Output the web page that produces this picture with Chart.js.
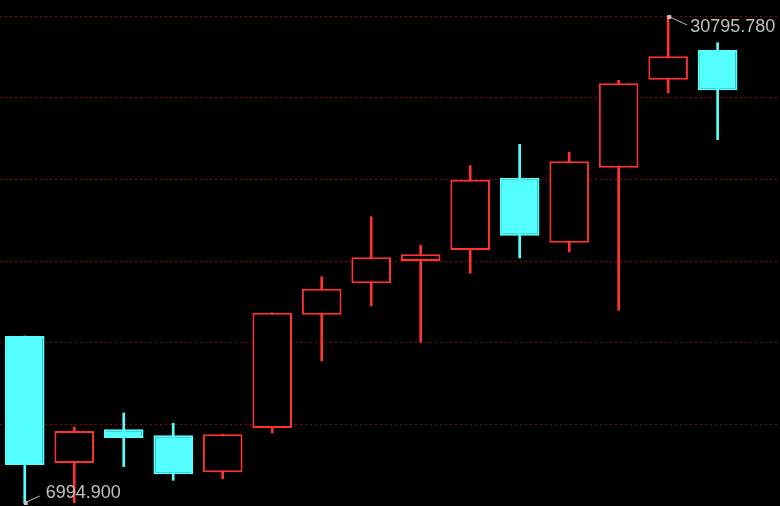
<!DOCTYPE html>
<html>
<head>
<meta charset="utf-8">
<script src="https://cdn.jsdelivr.net/npm/chart.js@4/dist/chart.umd.min.js"></script>
<style>
  html, body { margin: 0; padding: 0; background: #000; }
  #wrap { width: 780px; height: 506px; }
</style>
</head>
<body>
<div id="wrap"><canvas id="kline"></canvas></div>
<script>
// one candle per session
const sessions = [1, 2, 3, 4, 5, 6, 7, 8, 9, 10, 11, 12, 13, 14, 15];
const opens  = [15156, 8950, 10597, 10303, 8495, 10660, 16198, 17732, 18822, 19360, 22893, 19717, 23382, 27683, 29134];
const closes = [8852, 10514, 10172, 8397, 10352, 16295, 17468, 19003, 19149, 22796, 20059, 23695, 27507, 28826, 27165];
const highs  = [15156, 10709, 11393, 10890, 10352, 16295, 18055, 20987, 19589, 23480, 24526, 24135, 27653, 30795.78, 29491];
const lows   = [6994.9, 7010, 8769, 8104, 8182, 10416, 13935, 16623, 14849, 18221, 18969, 19262, 16413, 27033, 24750];

const yTop = 30795.78;
const yBottom = 6848;
const gridSteps = 6;

const RED = '#ff3232';
const CYAN = '#54ffff';

const isUp = opens.map((o, i) => closes[i] >= o);

const bodyData = sessions.map((s, i) => ({ x: i, y: [opens[i], closes[i]] }));
const wickData = sessions.map((s, i) => ({ x: i, y: [lows[i], highs[i]] }));

const extremeLabels = {
  id: 'extremeLabels',
  afterDatasetsDraw(chart) {
    const ctx = chart.ctx;
    const xs = chart.scales.x, ys = chart.scales.y;
    const hi = highs.indexOf(Math.max(...highs));
    const lo = lows.indexOf(Math.min(...lows));
    ctx.save();
    ctx.strokeStyle = '#c0c0c0';
    ctx.fillStyle = '#c0c0c0';
    ctx.lineWidth = 1;
    ctx.font = '18px "Liberation Sans", Arial, sans-serif';
    ctx.textBaseline = 'middle';
    ctx.textAlign = 'left';

    let px = xs.getPixelForValue(hi), py = ys.getPixelForValue(highs[hi]);
    ctx.fillRect(px - 1, py - 1, 4, 4);
    ctx.beginPath();
    ctx.moveTo(px + 2, py + 1);
    ctx.lineTo(px + 19, py + 9);
    ctx.stroke();
    ctx.fillText(highs[hi].toFixed(3), px + 22, py + 11);

    px = xs.getPixelForValue(lo); py = ys.getPixelForValue(lows[lo]);
    ctx.fillRect(px - 1, py - 2, 4, 4);
    ctx.beginPath();
    ctx.moveTo(px + 2, py - 1);
    ctx.lineTo(px + 15, py - 7);
    ctx.stroke();
    ctx.fillText(lows[lo].toFixed(3), px + 21, py - 10);
    ctx.restore();
  }
};

new Chart(document.getElementById('kline'), {
  type: 'bar',
  data: {
    datasets: [{
      data: bodyData,
      grouped: false,
      backgroundColor: isUp.map(u => u ? '#000' : CYAN),
      borderColor: isUp.map(u => u ? RED : CYAN),
      borderWidth: 2,
      borderSkipped: false,
      barPercentage: 0.8,
      categoryPercentage: 1
    }, {
      data: wickData,
      grouped: false,
      backgroundColor: isUp.map(u => u ? RED : CYAN),
      borderWidth: 0,
      barThickness: 2
    }]
  },
  options: {
    responsive: true,
    maintainAspectRatio: false,
    animation: false,
    layout: { padding: { top: 16, left: 0, right: 0, bottom: 0 } },
    plugins: { legend: { display: false }, tooltip: { enabled: false } },
    scales: {
      x: {
        type: 'linear',
        min: -0.5,
        max: 15.26,
        offset: false,
        bounds: 'ticks',
        grid: { display: false, offset: false },
        display: false
      },
      y: {
        min: yBottom,
        max: yTop,
        border: { display: false, dash: [2, 3] },
        ticks: { display: false },
        afterBuildTicks: (axis) => {
          const step = (yTop - yBottom) / gridSteps;
          axis.ticks = [];
          for (let k = 0; k <= gridSteps; k++) axis.ticks.push({ value: yBottom + k * step });
        },
        afterFit: (axis) => { axis.width = 0; },
        grid: {
          color: '#a00000',
          lineWidth: 1,
          drawTicks: false
        }
      }
    }
  },
  plugins: [extremeLabels, {
    id: 'bg',
    beforeDraw(chart) {
      const c = chart.ctx;
      c.save();
      c.fillStyle = '#000';
      c.fillRect(0, 0, chart.width, chart.height);
      c.restore();
    }
  }]
});
</script>
</body>
</html>
